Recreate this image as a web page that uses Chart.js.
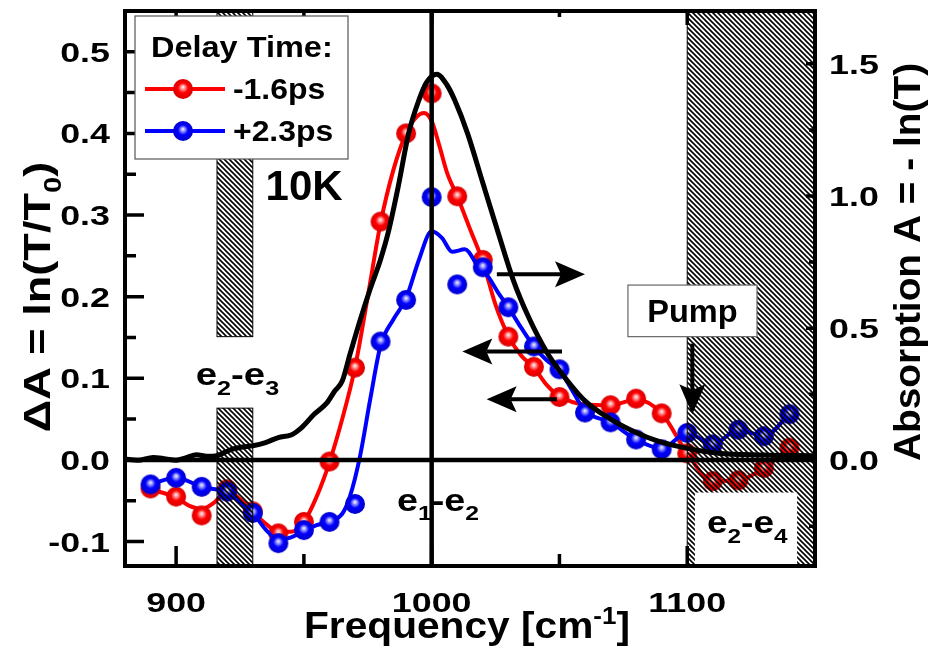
<!DOCTYPE html>
<html>
<head>
<meta charset="utf-8">
<script src="https://cdn.jsdelivr.net/npm/chart.js@4.4.0/dist/chart.umd.min.js"></script>
<style>
  html, body { margin: 0; padding: 0; background: #fff; }
</style>
</head>
<body>
<canvas id="chart" width="930" height="660"></canvas>
<script>
// measured points, delta absorption (left axis)
const freqRed = [890, 900, 910, 920, 930, 940, 950, 960, 970, 980, 990, 1000, 1010, 1020, 1030, 1040, 1050, 1070, 1080, 1090, 1100, 1110, 1120, 1130, 1140];
const dARed = [-0.035, -0.045, -0.068, -0.036, -0.063, -0.090, -0.076, -0.002, 0.113, 0.292, 0.400, 0.449, 0.323, 0.245, 0.151, 0.114, 0.077, 0.067, 0.075, 0.057, 0.008, -0.026, -0.025, -0.010, 0.015];
const freqBlue = [890, 900, 910, 920, 930, 940, 950, 960, 970, 980, 990, 1000, 1010, 1020, 1030, 1040, 1050, 1060, 1070, 1080, 1090, 1100, 1110, 1120, 1130, 1140];
const dABlue = [-0.030, -0.022, -0.033, -0.039, -0.065, -0.102, -0.086, -0.076, -0.054, 0.145, 0.196, 0.322, 0.215, 0.236, 0.187, 0.139, 0.111, 0.058, 0.046, 0.025, 0.013, 0.033, 0.019, 0.037, 0.029, 0.056];

// smoothed curves drawn through the points
const redFitFreq = [890, 900, 905, 910, 915, 920, 925, 930, 935, 940, 945, 950, 955, 960, 965, 970, 975, 980, 985, 990, 994, 997, 1000, 1003, 1006, 1010, 1015, 1020, 1025, 1030, 1035, 1040, 1045, 1050, 1060, 1070, 1080, 1090, 1100, 1110, 1120, 1130, 1140];
const redFitVal = [-0.036, -0.046, -0.056, -0.060, -0.052, -0.038, -0.048, -0.063, -0.078, -0.088, -0.088, -0.076, -0.045, -0.003, 0.050, 0.113, 0.200, 0.290, 0.355, 0.400, 0.420, 0.425, 0.415, 0.385, 0.352, 0.323, 0.283, 0.243, 0.190, 0.152, 0.128, 0.113, 0.092, 0.078, 0.068, 0.067, 0.074, 0.057, 0.008, -0.026, -0.025, -0.010, 0.015];
const blueFitFreq = [890, 900, 910, 920, 925, 930, 935, 940, 945, 950, 955, 960, 965, 968, 972, 976, 980, 985, 990, 995, 1000, 1004, 1008, 1013, 1018, 1022, 1026, 1030, 1035, 1040, 1045, 1050, 1055, 1060, 1070, 1080, 1090, 1100, 1110, 1120, 1130, 1140];
const blueFitVal = [-0.030, -0.022, -0.033, -0.040, -0.052, -0.065, -0.085, -0.098, -0.095, -0.087, -0.080, -0.075, -0.066, -0.045, 0.005, 0.075, 0.140, 0.172, 0.198, 0.245, 0.280, 0.272, 0.255, 0.258, 0.238, 0.225, 0.205, 0.187, 0.162, 0.139, 0.122, 0.110, 0.085, 0.060, 0.046, 0.025, 0.014, 0.033, 0.019, 0.037, 0.029, 0.056];

// static absorption spectrum (right axis)
const absFreq = [880, 885, 891, 896, 900, 904, 908, 912, 916, 919, 922, 926, 930, 935, 940, 945, 949, 954, 959, 962, 965, 968, 972, 976, 980, 983, 987, 991, 995, 998, 1002, 1006, 1009, 1014, 1020, 1026, 1032, 1038, 1045, 1050, 1060, 1070, 1080, 1088, 1100, 1112, 1130, 1150];
const absVal = [0.005, 0.0, 0.011, 0.005, 0.0, 0.01, 0.021, 0.015, 0.017, 0.03, 0.042, 0.05, 0.055, 0.067, 0.086, 0.096, 0.123, 0.174, 0.217, 0.261, 0.30, 0.40, 0.53, 0.65, 0.76, 0.862, 1.04, 1.238, 1.363, 1.43, 1.461, 1.42, 1.363, 1.238, 1.05, 0.862, 0.68, 0.54, 0.41, 0.34, 0.225, 0.156, 0.105, 0.074, 0.045, 0.027, 0.02, 0.017];

const seriesNames = ['-1.6ps', '+2.3ps'];
const xTicks = [900, 1000, 1100];
const yTicks = [-0.1, 0.0, 0.1, 0.2, 0.3, 0.4, 0.5];
const y2Ticks = [0.0, 0.5, 1.0, 1.5];

const FONT = '"Liberation Sans", Arial, sans-serif';

function pairs(xs, ys) {
    return xs.map((x, i) => ({ x: x, y: ys[i] }));
}

function makeBall(base, light, dark, r) {
    const s = Math.ceil(2 * r + 2);
    const c = document.createElement('canvas');
    c.width = s; c.height = s;
    const g = c.getContext('2d');
    const cx = s / 2, cy = s / 2;
    const grad = g.createRadialGradient(cx, cy - 0.2 * r, 0, cx, cy, r);
    grad.addColorStop(0, '#ffffff');
    grad.addColorStop(0.22, light);
    grad.addColorStop(0.5, base);
    grad.addColorStop(1, dark);
    g.fillStyle = grad;
    g.beginPath();
    g.arc(cx, cy, r, 0, Math.PI * 2);
    g.fill();
    return c;
}

function makeHatch() {
    const c = document.createElement('canvas');
    c.width = 5; c.height = 5;
    const g = c.getContext('2d');
    g.strokeStyle = '#000';
    g.lineWidth = 1.6;
    g.beginPath();
    g.moveTo(-1, -1); g.lineTo(6, 6);
    g.moveTo(-1, 4); g.lineTo(1, 6);
    g.moveTo(4, -1); g.lineTo(6, 1);
    g.stroke();
    return c;
}

const redBall = makeBall('#ff0000', '#ff9090', '#d80000', 10);
const blueBall = makeBall('#0000ff', '#9090ff', '#0000cc', 10);
const hatchTile = makeHatch();

// text with sub/superscripts: parts = [[text, ''|'sub'|'sup'], ...], k = horizontal stretch
function drawRich(ctx, parts, x, y, size, align, k) {
    k = k || 1;
    let w = 0;
    const items = parts.map(([t, m]) => {
        const s = m ? Math.round(size * 0.65) : size;
        ctx.font = `bold ${s}px ${FONT}`;
        const tw = ctx.measureText(t).width;
        w += tw;
        return { t, m, s, tw };
    });
    const x0 = align === 'center' ? x - w * k / 2 : (align === 'right' ? x - w * k : x);
    ctx.save();
    ctx.translate(x0, y);
    ctx.scale(k, 1);
    ctx.textAlign = 'left';
    ctx.textBaseline = 'alphabetic';
    let cx = 0;
    items.forEach(it => {
        ctx.font = `bold ${it.s}px ${FONT}`;
        const dy = it.m === 'sub' ? size * 0.3 : (it.m === 'sup' ? -size * 0.4 : 0);
        ctx.fillText(it.t, cx, dy);
        cx += it.tw;
    });
    ctx.restore();
}

function arrow(ctx, x1, y1, x2, y2) {
    const ang = Math.atan2(y2 - y1, x2 - x1);
    const hl = 30, hw = 13;
    const bx = x2 - hl * Math.cos(ang), by = y2 - hl * Math.sin(ang);
    ctx.lineWidth = 4;
    ctx.beginPath();
    ctx.moveTo(x1, y1);
    ctx.lineTo(bx + 6 * Math.cos(ang), by + 6 * Math.sin(ang));
    ctx.stroke();
    ctx.beginPath();
    ctx.moveTo(x2, y2);
    ctx.lineTo(bx - hw * Math.sin(ang), by + hw * Math.cos(ang));
    ctx.lineTo(bx + 6 * Math.cos(ang), by + 6 * Math.sin(ang));
    ctx.lineTo(bx + hw * Math.sin(ang), by - hw * Math.cos(ang));
    ctx.closePath();
    ctx.fill();
}

const fmt1 = v => (Math.abs(v) < 1e-9 ? 0 : v).toFixed(1);

const decorations = {
    id: 'decorations',
    afterDatasetsDraw(chart) {
        const ctx = chart.ctx;
        const a = chart.chartArea;
        const sx = chart.scales.x, sy = chart.scales.y, sr = chart.scales.y2;
        const X = v => sx.getPixelForValue(v);
        const Y = v => sy.getPixelForValue(v);
        ctx.save();
        ctx.strokeStyle = '#000';
        ctx.fillStyle = '#000';

        // zero line and line at 1000 cm-1
        ctx.lineWidth = 4.5;
        ctx.beginPath();
        ctx.moveTo(a.left, Y(0)); ctx.lineTo(a.right, Y(0));
        ctx.moveTo(X(1000), a.top); ctx.lineTo(X(1000), a.bottom);
        ctx.stroke();

        // hatched bands
        const pat = ctx.createPattern(hatchTile, 'repeat');
        const band = (x0, x1, y0, y1) => {
            ctx.fillStyle = pat;
            ctx.fillRect(x0, y0, x1 - x0, y1 - y0);
            ctx.lineWidth = 1;
            ctx.strokeStyle = '#000';
            ctx.strokeRect(x0, y0, x1 - x0, y1 - y0);
        };
        band(X(916), X(930), a.top, Y(0.151));
        band(X(916), X(930), Y(0.0634), a.bottom);
        band(X(1100), a.right, a.top, a.bottom);

        // white label box inside the right band
        ctx.fillStyle = '#fff';
        ctx.fillRect(X(1103), Y(-0.040), X(1143) - X(1103), a.bottom - Y(-0.040));

        // frame and inward ticks
        ctx.fillStyle = '#000';
        ctx.strokeStyle = '#000';
        ctx.lineWidth = 3.5;
        ctx.beginPath();
        for (let v = 900; v <= 1150; v += 50) {
            const len = v % 100 === 0 ? 20 : 12;
            ctx.moveTo(X(v), a.bottom); ctx.lineTo(X(v), a.bottom - len);
            ctx.moveTo(X(v), a.top); ctx.lineTo(X(v), a.top + len - 6);
        }
        for (let k = -2; k <= 10; k++) {
            const v = k * 0.05;
            const len = k % 2 === 0 ? 19 : 11;
            ctx.moveTo(a.left, Y(v)); ctx.lineTo(a.left + len, Y(v));
        }
        for (let k = -1; k <= 6; k++) {
            const v = k * 0.25;
            const len = k % 2 === 0 ? 9 : 6;
            const yy = sr.getPixelForValue(v);
            ctx.moveTo(a.right, yy); ctx.lineTo(a.right - len, yy);
        }
        ctx.stroke();
        ctx.lineWidth = 4;
        ctx.strokeRect(a.left, a.top, a.right - a.left, a.bottom - a.top);

        // legend
        const lx = a.left + 10, ly = a.top + 5, lw = 213, lh = 143;
        ctx.fillStyle = '#fff';
        ctx.fillRect(lx, ly, lw, lh);
        ctx.strokeStyle = '#555';
        ctx.lineWidth = 1.2;
        ctx.strokeRect(lx, ly, lw, lh);
        ctx.fillStyle = '#000';
        drawRich(ctx, [['Delay Time:', '']], lx + 16, ly + 41, 29, 'left', 1.12);
        [[redBall, '#ff0000', 73], [blueBall, '#0000ff', 115]].forEach(([ball, col, dy], i) => {
            ctx.strokeStyle = col;
            ctx.lineWidth = 4.2;
            ctx.beginPath();
            ctx.moveTo(lx + 10, ly + dy); ctx.lineTo(lx + 90, ly + dy);
            ctx.stroke();
            ctx.drawImage(ball, lx + 48 - ball.width / 2, ly + dy - ball.height / 2);
            ctx.fillStyle = '#000';
            drawRich(ctx, [[seriesNames[i], '']], lx + 98, ly + dy + 10, 29, 'left', 1.1);
        });

        // labels
        ctx.fillStyle = '#000';
        drawRich(ctx, [['10K', '']], X(935), Y(0.319), 42, 'left');
        drawRich(ctx, [['e', ''], ['2', 'sub'], ['-e', ''], ['3', 'sub']], X(924), Y(0.0914), 32, 'center', 1.2);
        drawRich(ctx, [['e', ''], ['1', 'sub'], ['-e', ''], ['2', 'sub']], X(1002.5), Y(-0.062), 32, 'center', 1.18);
        drawRich(ctx, [['e', ''], ['2', 'sub'], ['-e', ''], ['4', 'sub']], X(1123.5), Y(-0.090), 32, 'center', 1.16);

        // pump box and arrow
        const px0 = X(1076.8), px1 = X(1127.3), py0 = Y(0.2142), py1 = Y(0.151);
        ctx.fillStyle = '#fff';
        ctx.fillRect(px0, py0, px1 - px0, py1 - py0);
        ctx.strokeStyle = '#666';
        ctx.lineWidth = 1.2;
        ctx.strokeRect(px0, py0, px1 - px0, py1 - py0);
        ctx.fillStyle = '#000';
        drawRich(ctx, [['Pump', '']], (px0 + px1) / 2, (py0 + py1) / 2 + 11, 31, 'center', 1.05);
        ctx.strokeStyle = '#000';
        arrow(ctx, X(1102), Y(0.1425), X(1102), Y(0.056));

        // arrows pointing to the axes
        arrow(ctx, X(1025.5), Y(0.2276), X(1060), Y(0.2276));
        arrow(ctx, X(1051), Y(0.1327), X(1012), Y(0.1327));
        arrow(ctx, X(1049), Y(0.0743), X(1021.5), Y(0.0743));

        ctx.restore();
    },
    afterDraw(chart) {
        const ctx = chart.ctx;
        const a = chart.chartArea;
        const sx = chart.scales.x, sy = chart.scales.y, sr = chart.scales.y2;
        ctx.save();
        ctx.fillStyle = '#000';

        // tick labels
        xTicks.forEach(v => drawRich(ctx, [[String(v), '']], sx.getPixelForValue(v), 612, 28, 'center', 1.28));
        yTicks.forEach(v => drawRich(ctx, [[fmt1(v), '']], a.left - 15, sy.getPixelForValue(v) + 10, 28, 'right', 1.28));
        y2Ticks.forEach(v => drawRich(ctx, [[fmt1(v), '']], a.right + 14, sr.getPixelForValue(v) + 10, 28, 'left', 1.28));

        // axis titles
        drawRich(ctx, [['Frequency [cm', ''], ['-1', 'sup'], [']', '']], (a.left + a.right) / 2 - 3, 638, 36, 'center', 1.13);
        ctx.save();
        ctx.translate(50, 297);
        ctx.rotate(-Math.PI / 2);
        drawRich(ctx, [['\u0394A = ln(T/T', ''], ['0', 'sub'], [')', '']], 0, 0, 37, 'center', 1.22);
        ctx.restore();
        ctx.save();
        ctx.translate(920, 262);
        ctx.rotate(-Math.PI / 2);
        drawRich(ctx, [['Absorption A = - ln(T)', '']], 0, 0, 37, 'center', 1.05);
        ctx.restore();
        ctx.restore();
    }
};

const hiddenTicks = { display: false };

new Chart(document.getElementById('chart').getContext('2d'), {
    type: 'line',
    data: {
        datasets: [
            {
                data: pairs(absFreq, absVal), yAxisID: 'y2', order: 0,
                borderColor: '#000', borderWidth: 5, pointRadius: 0,
                cubicInterpolationMode: 'monotone', fill: false
            },
            {
                data: pairs(freqBlue, dABlue), yAxisID: 'y', order: 1,
                showLine: false, pointStyle: blueBall, pointRadius: 10
            },
            {
                data: pairs(blueFitFreq, blueFitVal), yAxisID: 'y', order: 2,
                borderColor: '#0000ff', borderWidth: 4, pointRadius: 0,
                cubicInterpolationMode: 'monotone', fill: false
            },
            {
                data: pairs(freqRed, dARed), yAxisID: 'y', order: 3,
                showLine: false, pointStyle: redBall, pointRadius: 10
            },
            {
                data: pairs(redFitFreq, redFitVal), yAxisID: 'y', order: 4,
                borderColor: '#ff0000', borderWidth: 4, pointRadius: 0,
                cubicInterpolationMode: 'monotone', fill: false
            }
        ]
    },
    options: {
        responsive: false,
        animation: false,
        layout: { padding: { top: 7, left: 0, right: 0, bottom: 0 } },
        plugins: { legend: { display: false }, tooltip: { enabled: false } },
        scales: {
            x: {
                type: 'linear', min: 880, max: 1150,
                ticks: hiddenTicks,
                grid: { display: false, drawTicks: false }, border: { display: false },
                afterFit: s => { s.height = 94; }
            },
            y: {
                position: 'left', min: -0.13, max: 0.55,
                ticks: hiddenTicks,
                grid: { display: false, drawTicks: false }, border: { display: false },
                afterFit: s => { s.width = 125; }
            },
            y2: {
                position: 'right', min: -0.4, max: 1.7,
                ticks: hiddenTicks,
                grid: { display: false, drawTicks: false }, border: { display: false },
                afterFit: s => { s.width = 115; }
            }
        }
    },
    plugins: [decorations]
});
</script>
</body>
</html>
